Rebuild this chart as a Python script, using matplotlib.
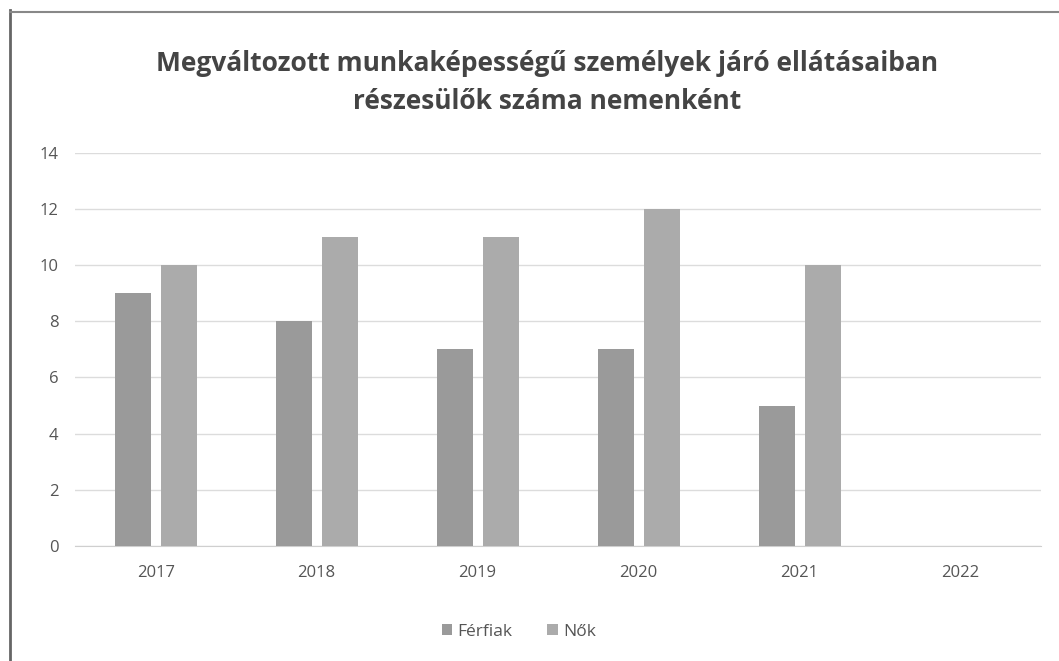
import matplotlib
matplotlib.use("Agg")
import matplotlib.pyplot as plt
from matplotlib.lines import Line2D
import numpy as np

years = ["2017", "2018", "2019", "2020", "2021", "2022"]
ferfiak = [9, 8, 7, 7, 5, 0]
nok = [10, 11, 11, 12, 10, 0]
series_names = ["Férfiak", "Nők"]
title = "Megváltozott munkaképességű személyek járó ellátásaiban\nrészesülők száma nemenként"

plt.rcParams['font.family'] = ['Open Sans', 'DejaVu Sans']

fig = plt.figure(figsize=(10.59, 6.61), dpi=100)
fig.patch.set_facecolor('white')
ax = fig.add_axes([0.071, 0.174, 0.912, 0.595])

x = np.arange(len(years))
w = 0.22
ax.bar(x - 0.14, ferfiak, w, color='#9a9a9a', label=series_names[0], zorder=3)
ax.bar(x + 0.145, nok, w, color='#ababab', label=series_names[1], zorder=3)

ax.set_xlim(-0.5, len(years) - 0.5)
ax.set_ylim(0, 14)
ax.set_yticks(range(0, 15, 2))
ax.set_xticks(x)
ax.set_xticklabels(years)
ax.grid(axis='y', color='#dcdcdc', linewidth=1, zorder=0)
for s in ['top', 'right', 'left']:
    ax.spines[s].set_visible(False)
ax.spines['bottom'].set_color('#cfcfcf')
ax.tick_params(axis='both', length=0, labelsize=12, colors='#555555')
ax.tick_params(axis='x', pad=14)
ax.tick_params(axis='y', pad=12)

fig.text(0.517, 0.875, title, ha='center', va='center', fontsize=19,
         fontweight='bold', color='#444444', linespacing=1.5)

fig.legend(loc='center', bbox_to_anchor=(0.49, 0.044), ncol=2, frameon=False,
           fontsize=12.5, labelcolor='#555555', handlelength=0.6, handleheight=0.6,
           handletextpad=0.3, columnspacing=2.0)

fig.add_artist(Line2D([0.0095, 0.0095], [0.0, 0.985], color='#666666', linewidth=2,
                      transform=fig.transFigure))
fig.add_artist(Line2D([0.0095, 1.0], [0.982, 0.982], color='#888888', linewidth=1.5,
                      transform=fig.transFigure))

fig.savefig("out.png", dpi=100)
